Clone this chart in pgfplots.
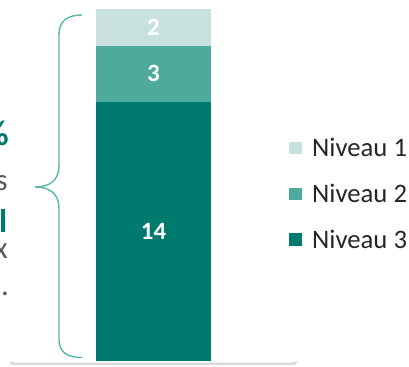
\documentclass[border=0pt]{standalone}
\usepackage{pgfplots}
\pgfplotsset{compat=1.18}
\usepackage{fontspec}
\setmainfont{Carlito}
\definecolor{nivA}{HTML}{C8E1DE}
\definecolor{nivB}{HTML}{4DAA9C}
\definecolor{nivC}{HTML}{007A6E}
\definecolor{bracec}{HTML}{5AB4A8}
\definecolor{txtgray}{HTML}{595959}
\definecolor{legtxt}{HTML}{262626}
\definecolor{basegray}{HTML}{D9D9D9}
\begin{document}
\begin{tikzpicture}[x=1bp,y=1bp]
\useasboundingbox (0,0) rectangle (409,367);
% cut-off paragraph on the left
\node[anchor=base east, inner sep=0pt, text=nivC, font=\fontsize{36}{36}\selectfont\bfseries] at (9,222) {\%};
\node[anchor=base east, inner sep=0pt, text=txtgray, font=\fontsize{31}{31}\selectfont] at (8,177) {s};
\node[anchor=base east, inner sep=0pt, text=nivC, font=\fontsize{33}{33}\selectfont\bfseries] at (7.5,135) {l};
\node[anchor=base east, inner sep=0pt, text=txtgray, font=\fontsize{31}{31}\selectfont] at (8,109) {x};
\node[anchor=base east, inner sep=0pt, text=txtgray, font=\fontsize{31}{31}\selectfont] at (9,72) {.};
% brace
\draw[bracec, line width=1.4bp] (82,352) .. controls (68,352) and (59,346.5) .. (59,332.5) -- (59,201) .. controls (59,187) and (50,180) .. (35,180) .. controls (50,180) and (59,173) .. (59,159) -- (59,28) .. controls (59,14) and (68,9.5) .. (82,9.5);
% baseline
\draw[basegray, line width=2.4bp, rounded corners=1.5bp] (11,5.5) -- (11,3.3) -- (296,3.3) -- (296,5.5);
\begin{axis}[
  at={(0bp,6bp)}, anchor=origin,
  scale only axis, width=409bp, height=352bp,
  xmin=0, xmax=409, ymin=0, ymax=19,
  hide axis, clip=false,
  ybar stacked, bar width=115,
  point meta=rawy,
  nodes near coords={\fontsize{25}{25}\selectfont\bfseries\pgfmathprintnumber[assume math mode=true]{\pgfplotspointmeta}},
  every node near coord/.append style={anchor=center, text=white},
  reverse legend,
  legend cell align=left,
  legend image code/.code={\fill[#1] (0bp,-6bp) rectangle (13bp,6.5bp);},
  legend style={draw=none, fill=none, at={(289/409,0.629)}, anchor=north west, inner sep=0pt, row sep=28.8bp,
    nodes={inner sep=0pt, text height=17bp, text depth=0pt, font=\fontsize{26.8}{26.8}\selectfont, text=legtxt},
    /tikz/every odd column/.append style={column sep=10bp}},
]
\addplot[fill=nivC, draw=none] coordinates {(153.5,14)};
\addlegendentry{Niveau 3}
\addplot[fill=nivB, draw=none] coordinates {(153.5,3)};
\addlegendentry{Niveau 2}
\addplot[fill=nivA, draw=none] coordinates {(153.5,2)};
\addlegendentry{Niveau 1}
\end{axis}
\end{tikzpicture}
\end{document}
